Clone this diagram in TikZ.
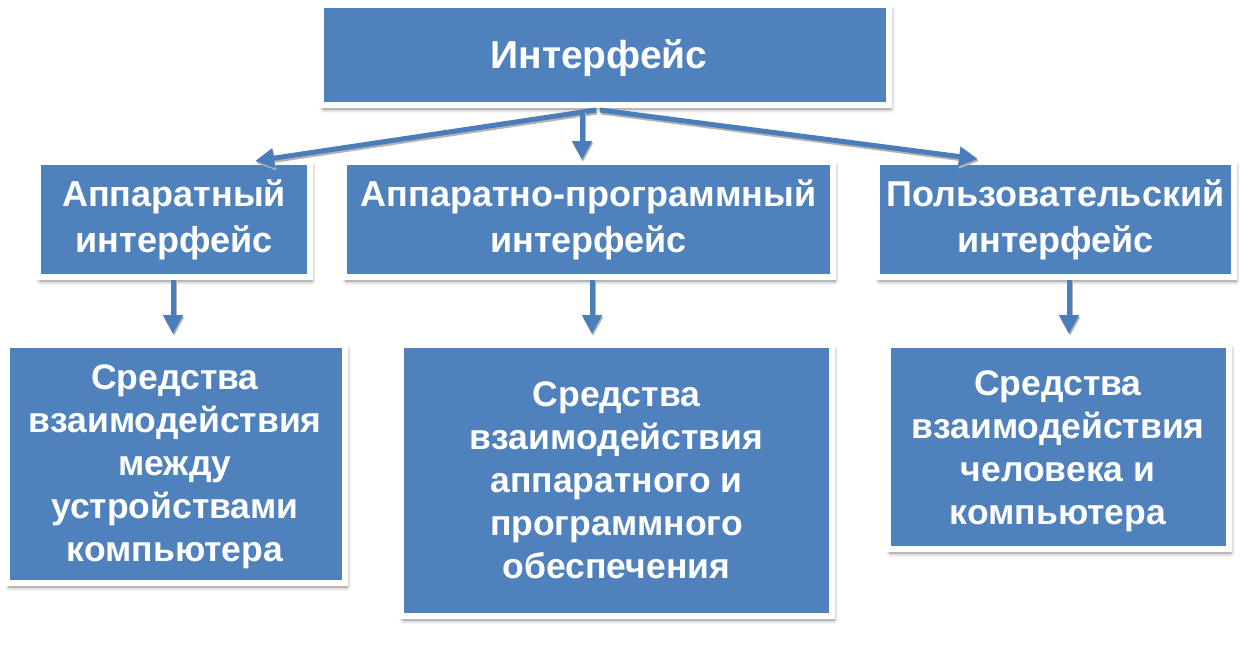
\documentclass[tikz,border=0pt]{standalone}
\usepackage{fontspec}
\setmainfont{Liberation Sans}
\usetikzlibrary{arrows.meta,shadows.blur,calc}
\definecolor{boxblue}{HTML}{4F81BD}
\definecolor{arrblue}{HTML}{4A7EBB}
\tikzset{
  box/.style={rectangle, fill=boxblue, draw=white, line width=6pt,
    inner sep=0pt, outer sep=0pt, align=center, text=white,
    font=\bfseries\fontsize{36}{46}\selectfont,
    blur shadow={shadow xshift=2pt, shadow yshift=-4pt, shadow blur radius=4pt, shadow opacity=50}},
  lowbox/.style={box, font=\bfseries\fontsize{35.5}{43}\selectfont},
  boxtext/.style={inner sep=0pt, align=center, text=white},
  arr/.style={draw=arrblue, line width=5pt, -{Triangle[width=19pt,length=19pt]},
    preaction={draw=black!30, line width=5pt, transform canvas={xshift=1pt,yshift=-2pt}}}
}
\begin{document}
\begin{tikzpicture}[x=1pt,y=-1pt]
\useasboundingbox (0,0) rectangle (1255,646);
\node[box, minimum width=568pt, minimum height=100pt] (top) at (605,55) {};
\node[boxtext, font=\bfseries\fontsize{39}{46}\selectfont] (toptext) at (599,58) {Интерфейс};
\node[box, minimum width=272pt, minimum height=115pt] (l2) at (174,219.5) {Аппаратный\\интерфейс};
\node[box, minimum width=489pt, minimum height=115pt] (m2) at (588.5,219.5) {Аппаратно-программный\\интерфейс};
\node[box, minimum width=357pt, minimum height=115pt] (r2) at (1055.5,219.5) {Пользовательский\\интерфейс};
\node[lowbox, minimum width=338pt, minimum height=238pt] (l3) at (176,464) {};
\node[boxtext, font=\bfseries\fontsize{35.5}{43}\selectfont] (l3text) at (175,467) {Средства\\взаимодействия\\между\\устройствами\\компьютера};
\node[lowbox, minimum width=431pt, minimum height=271pt] (m3) at (616.5,480.5) {Средства\\взаимодействия\\аппаратного и\\программного\\обеспечения};
\node[lowbox, minimum width=341pt, minimum height=204pt] (r3) at (1058.5,447) {};
\node[boxtext, font=\bfseries\fontsize{35.5}{43}\selectfont] (r3text) at (1058,451) {Средства\\взаимодействия\\человека и\\компьютера};
\coordinate (hub) at ($(top.south)+(-7,5)$);
\coordinate (hl) at ($(hub)+(-2,0)$);
\coordinate (hr) at ($(hub)+(2,0)$);
\draw[arr] (hl) -- ($(l2.north)+(81,-1)$);
\draw[arr] ($(hub)+(-16,0)$) -- ($(m2.north)+(-6.5,-2)$);
\draw[arr] (hr) -- ($(r2.north)+(-77.5,-3)$);
\draw[arr, shorten <=3pt, shorten >=11pt] ([xshift=-1pt]l2.south) -- ([xshift=-1pt]l2.south |- l3.north);
\draw[arr, shorten <=3pt, shorten >=11pt] ([xshift=3.5pt]m2.south) -- ([xshift=3.5pt]m2.south |- m3.north);
\draw[arr, shorten <=3pt, shorten >=11pt] ([xshift=13.5pt]r2.south) -- ([xshift=13.5pt]r2.south |- r3.north);
\end{tikzpicture}
\end{document}
